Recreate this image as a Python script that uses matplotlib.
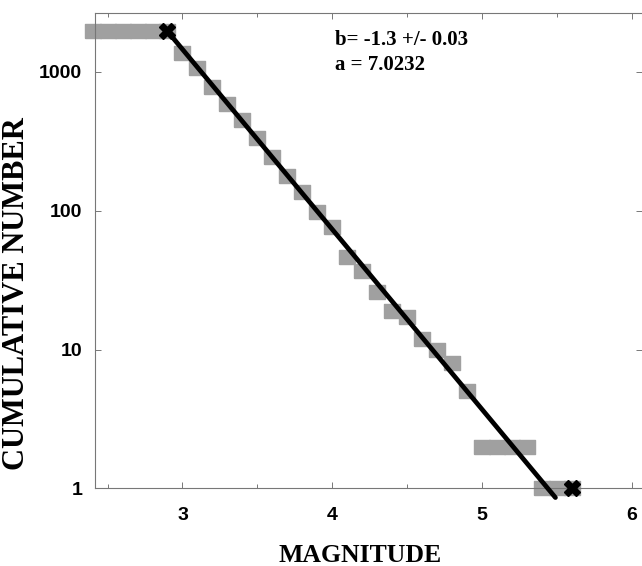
import numpy as np
import matplotlib
matplotlib.use("Agg")
import matplotlib.pyplot as plt
from matplotlib.ticker import FixedLocator, NullLocator, FixedFormatter

# cumulative number of events at or above each magnitude
magnitudes = [2.4, 2.5, 2.6, 2.7, 2.8, 2.9, 3.0, 3.1, 3.2, 3.3, 3.4, 3.5, 3.6,
              3.7, 3.8, 3.9, 4.0, 4.1, 4.2, 4.3, 4.4, 4.5, 4.6, 4.7, 4.8, 4.9,
              5.0, 5.1, 5.2, 5.3, 5.4, 5.5, 5.6]
cum_number = [1950, 1950, 1950, 1950, 1950, 1950, 1370, 1070, 770, 580, 445,
              335, 244, 176, 135, 97, 76, 46, 37, 26, 19, 17, 12, 10, 8, 5,
              2, 2, 2, 2, 1, 1, 1]

# fitted line end points and the two marked points (Mc and Mmax)
fit_m = [2.9, 5.49]
fit_n = [1950, 0.86]
mark_m = [2.9, 5.6]
mark_n = [1950, 1]

b_text = "b= -1.3 +/- 0.03"
a_text = "a = 7.0232"

fig = plt.figure(figsize=(6.42, 5.66), dpi=100)
ax = fig.add_axes([0.1475, 0.137, 0.8525, 0.84])

# gray boxes, slightly wider than tall
box = [(-1, -0.8), (1, -0.8), (1, 0.8), (-1, 0.8), (-1, -0.8)]
ax.plot(magnitudes, cum_number, linestyle="none", marker=box, ms=12.2,
        color="#a0a0a0", mec="#a0a0a0", clip_on=False, zorder=2)

ax.plot(fit_m, fit_n, color="black", lw=3.4, solid_capstyle="round",
        clip_on=False, zorder=3)
ax.plot(mark_m, mark_n, linestyle="none", marker="X", ms=11, color="black",
        clip_on=False, zorder=4)

ax.set_yscale("log")
ax.set_xlim(2.414, 6.068)
ax.set_ylim(1, 2640)

ax.xaxis.set_major_locator(FixedLocator([3, 4, 5, 6]))
ax.xaxis.set_minor_locator(FixedLocator([2.5, 3.5, 4.5, 5.5]))
ax.yaxis.set_major_locator(FixedLocator([1, 10, 100, 1000]))
ax.yaxis.set_major_formatter(FixedFormatter(["1", "10", "100", "1000"]))
ax.yaxis.set_minor_locator(NullLocator())

ax.tick_params(axis="both", which="both", direction="in", color="#777777",
               width=0.7, top=True, right=True)
ax.tick_params(axis="both", which="major", length=4)
ax.tick_params(axis="both", which="minor", length=3)
ax.tick_params(axis="x", which="major", pad=13.5)
ax.tick_params(axis="y", which="major", pad=9)

for lab in ax.get_xticklabels() + ax.get_yticklabels():
    lab.set_fontfamily("Liberation Sans")
    lab.set_fontweight("bold")
    lab.set_fontsize(14)

for side in ["left", "top", "bottom"]:
    ax.spines[side].set_color("#777777")
    ax.spines[side].set_linewidth(0.8)
ax.spines["right"].set_visible(False)

ax.text(4.02, 1564, b_text, fontfamily="Liberation Serif", fontweight="bold",
        fontsize=15, va="baseline")
ax.text(4.02, 1033, a_text, fontfamily="Liberation Serif", fontweight="bold",
        fontsize=15, va="baseline")

fig.text(0.561, 1 - 555 / 566, "MAGNITUDE", fontfamily="Liberation Serif",
         fontweight="bold", fontsize=18.5, ha="center", va="center")
fig.text(17 / 642, 1 - 294 / 566, "CUMULATIVE NUMBER", fontfamily="Liberation Serif",
         fontweight="bold", fontsize=22, ha="center", va="center", rotation=90)

fig.savefig("out.png", dpi=100)
